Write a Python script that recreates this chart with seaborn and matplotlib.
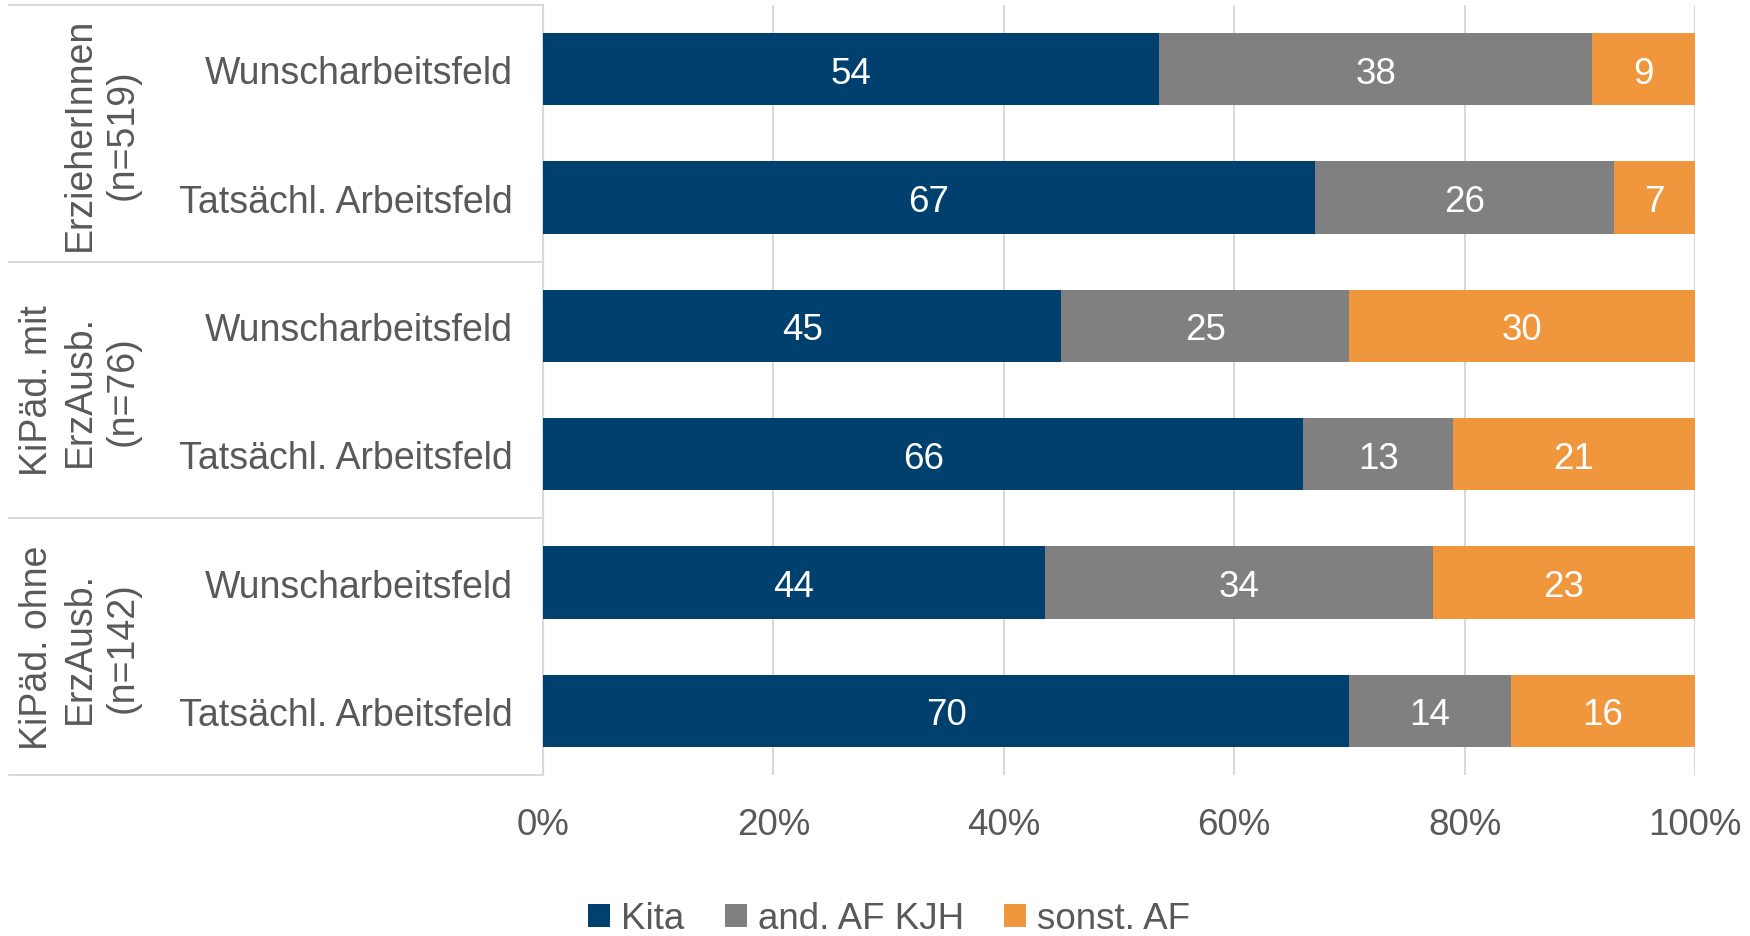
import matplotlib
matplotlib.use("Agg")
import matplotlib.pyplot as plt
import matplotlib.transforms as mtransforms
from matplotlib.patches import Patch
from matplotlib.lines import Line2D
import seaborn as sns
import pandas as pd
import numpy as np

# ---- data ----
rows = ["Wunscharbeitsfeld", "Tatsächl. Arbeitsfeld",
        "Wunscharbeitsfeld", "Tatsächl. Arbeitsfeld",
        "Wunscharbeitsfeld", "Tatsächl. Arbeitsfeld"]
groups = ["ErzieherInnen\n(n=519)", "KiPäd. mit\nErzAusb.\n(n=76)", "KiPäd. ohne\nErzAusb.\n(n=142)"]
series = ["Kita", "and. AF KJH", "sonst. AF"]
kita = [54, 67, 45, 66, 44, 70]
andaf = [38, 26, 25, 13, 34, 14]
sonst = [9, 7, 30, 21, 23, 16]
xticks = [0, 20, 40, 60, 80, 100]

colors = ["#00406F", "#808080", "#F0963C"]
text_color = "#595959"
grid_color = "#D9D9D9"

sns.set_theme(style="white")
plt.rcParams["font.family"] = ["Liberation Sans", "DejaVu Sans"]

df = pd.DataFrame({"row": [f"r{i}" for i in range(len(rows))],
                   "Kita": kita, "and. AF KJH": andaf, "sonst. AF": sonst})
tot = df[series].sum(axis=1)
pct = df[series].div(tot, axis=0) * 100
cum = pct.cumsum(axis=1)

fig = plt.figure(figsize=(17.5, 9.37), dpi=100)
ax = fig.add_axes([543 / 1750, 161 / 937, (1695 - 543) / 1750, (776 - 6) / 937])

# stacked bars via overlaid cumulative values (widest first)
for s, c in zip(series[::-1], colors[::-1]):
    sns.barplot(x=cum[s], y=df["row"], orient="h", color=c, width=0.565,
                saturation=1, ax=ax, zorder=3, edgecolor="none")

# value labels
for i in range(len(df)):
    left = 0
    for s in series:
        w = pct.loc[i, s]
        ax.text(left + w / 2, i, f"{df.loc[i, s]}", ha="center", va="center_baseline",
                color="white", fontsize=26.5, zorder=5)
        left += w

ax.set_xlim(0, 100)
ax.set_ylim(5.5, -0.5)
ax.set_xticks(xticks)
ax.set_xticklabels([f"{t}%" for t in xticks], fontsize=26.5, color=text_color)
ax.set_yticks(range(len(rows)))
ax.set_yticklabels(rows, fontsize=27, color=text_color)
ax.set_xlabel("")
ax.set_ylabel("")
ax.tick_params(axis="y", length=0, pad=22)
ax.tick_params(axis="x", length=0, pad=23)
ax.xaxis.grid(True, color=grid_color, lw=1.5, zorder=0)
ax.yaxis.grid(False)
for sp in ["top", "right", "bottom"]:
    ax.spines[sp].set_visible(False)
ax.spines["left"].set_color(grid_color)
ax.spines["left"].set_linewidth(1.5)

# group separators & labels
trans = mtransforms.blended_transform_factory(fig.transFigure, ax.transData)
for yb in [-0.5, 1.5, 3.5, 5.5]:
    fig.add_artist(Line2D([9 / 1750, 543 / 1750], [yb, yb], transform=trans,
                          color=grid_color, lw=1.5))
for g, yc in zip(groups, [0.5, 2.5, 4.5]):
    fig.text(141 / 1750, yc, g, transform=trans, rotation=90, ha="right", va="center",
             multialignment="center", fontsize=27, color=text_color, linespacing=1.25)

# legend
handles = [Patch(facecolor=c, edgecolor="none", label=s) for s, c in zip(series, colors)]
leg = fig.legend(handles=handles, loc="center", bbox_to_anchor=(0.508, 17 / 937),
                 ncol=3, frameon=False, fontsize=26.5, handlelength=0.6, handleheight=0.6,
                 handletextpad=0.3, columnspacing=1.1)
for t in leg.get_texts():
    t.set_color(text_color)

fig.savefig("out.png", dpi=100, facecolor="white")
